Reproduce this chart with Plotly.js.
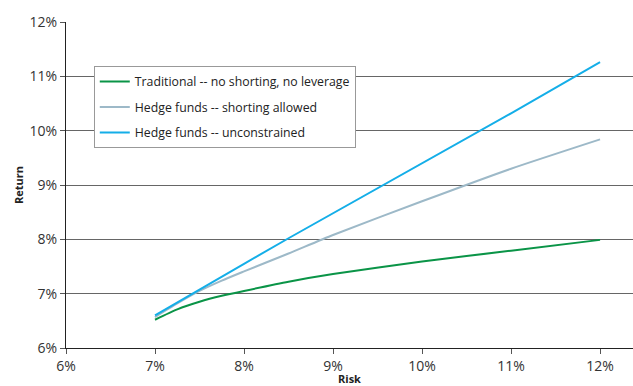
<!DOCTYPE html>
<html><head><meta charset="utf-8">
<script src="https://cdn.plot.ly/plotly-3.0.1.min.js"></script>
<style>html,body{margin:0;padding:0;background:#fff}#chart{width:633px;height:386px}</style>
</head><body><div id="chart"></div>
<script>
const risk = [7, 7.25, 7.5, 7.75, 8, 8.5, 9, 10, 11, 12];
const traditional = [6.52, 6.71, 6.85, 6.96, 7.05, 7.22, 7.36, 7.59, 7.79, 7.99];
const shortingAllowed = [6.57, 6.82, 7.05, 7.24, 7.41, 7.74, 8.08, 8.7, 9.3, 9.84];
const unconstrained = [6.6, 6.84, 7.08, 7.32, 7.55, 8.02, 8.48, 9.39, 10.32, 11.26];
const names = ["Traditional -- no shorting, no leverage", "Hedge funds -- shorting allowed", "Hedge funds -- unconstrained"];
const xTicks = [6, 7, 8, 9, 10, 11, 12];
const yTicks = [6, 7, 8, 9, 10, 11, 12];

const font = "Open Sans, sans-serif";
const traces = [
  {x: risk, y: traditional, name: names[0], mode: "lines", line: {color: "#0a9447", width: 2, shape: "spline", smoothing: 0.6}, legendgroup: "a"},
  {x: risk, y: shortingAllowed, name: names[1], mode: "lines", line: {color: "#9db9c8", width: 2, shape: "spline", smoothing: 0.6}, legendgroup: "b"},
  {x: risk, y: unconstrained, name: names[2], mode: "lines", line: {color: "#14aee8", width: 2}, legendgroup: "c"}
];
const layout = {
  width: 633, height: 386,
  margin: {l: 66, r: 0, t: 22, b: 38},
  paper_bgcolor: "#fff", plot_bgcolor: "#fff",
  font: {family: font, color: "#333", size: 14},
  showlegend: true,
  legend: {x: 0.049, y: 0.865, xanchor: "left", yanchor: "top", bgcolor: "#fff", bordercolor: "#999", borderwidth: 1,
           font: {size: 12.3, color: "#222"}, traceorder: "grouped", tracegroupgap: 6.5},
  xaxis: {range: [6, 12.37], tickvals: xTicks, ticktext: xTicks.map(v => v + "%"), showgrid: false, zeroline: false,
          showline: true, linecolor: "#222", linewidth: 1, ticks: "outside", ticklen: 5, tickcolor: "#555",
          title: {text: "<b>Risk</b>", font: {size: 11, color: "#222"}, standoff: 1}},
  yaxis: {range: [6, 12], tickvals: yTicks, ticktext: yTicks.map(v => v + "%"), showgrid: true, gridcolor: "#666", gridwidth: 1,
          zeroline: false, showline: true, linecolor: "#222", linewidth: 1, ticks: "outside", ticklen: 5, tickcolor: "#555",
          title: {text: "<b>Return</b>", font: {size: 11, color: "#222"}, standoff: 3}}
};
Plotly.newPlot("chart", traces, layout, {displayModeBar: false, staticPlot: true});
</script></body></html>
